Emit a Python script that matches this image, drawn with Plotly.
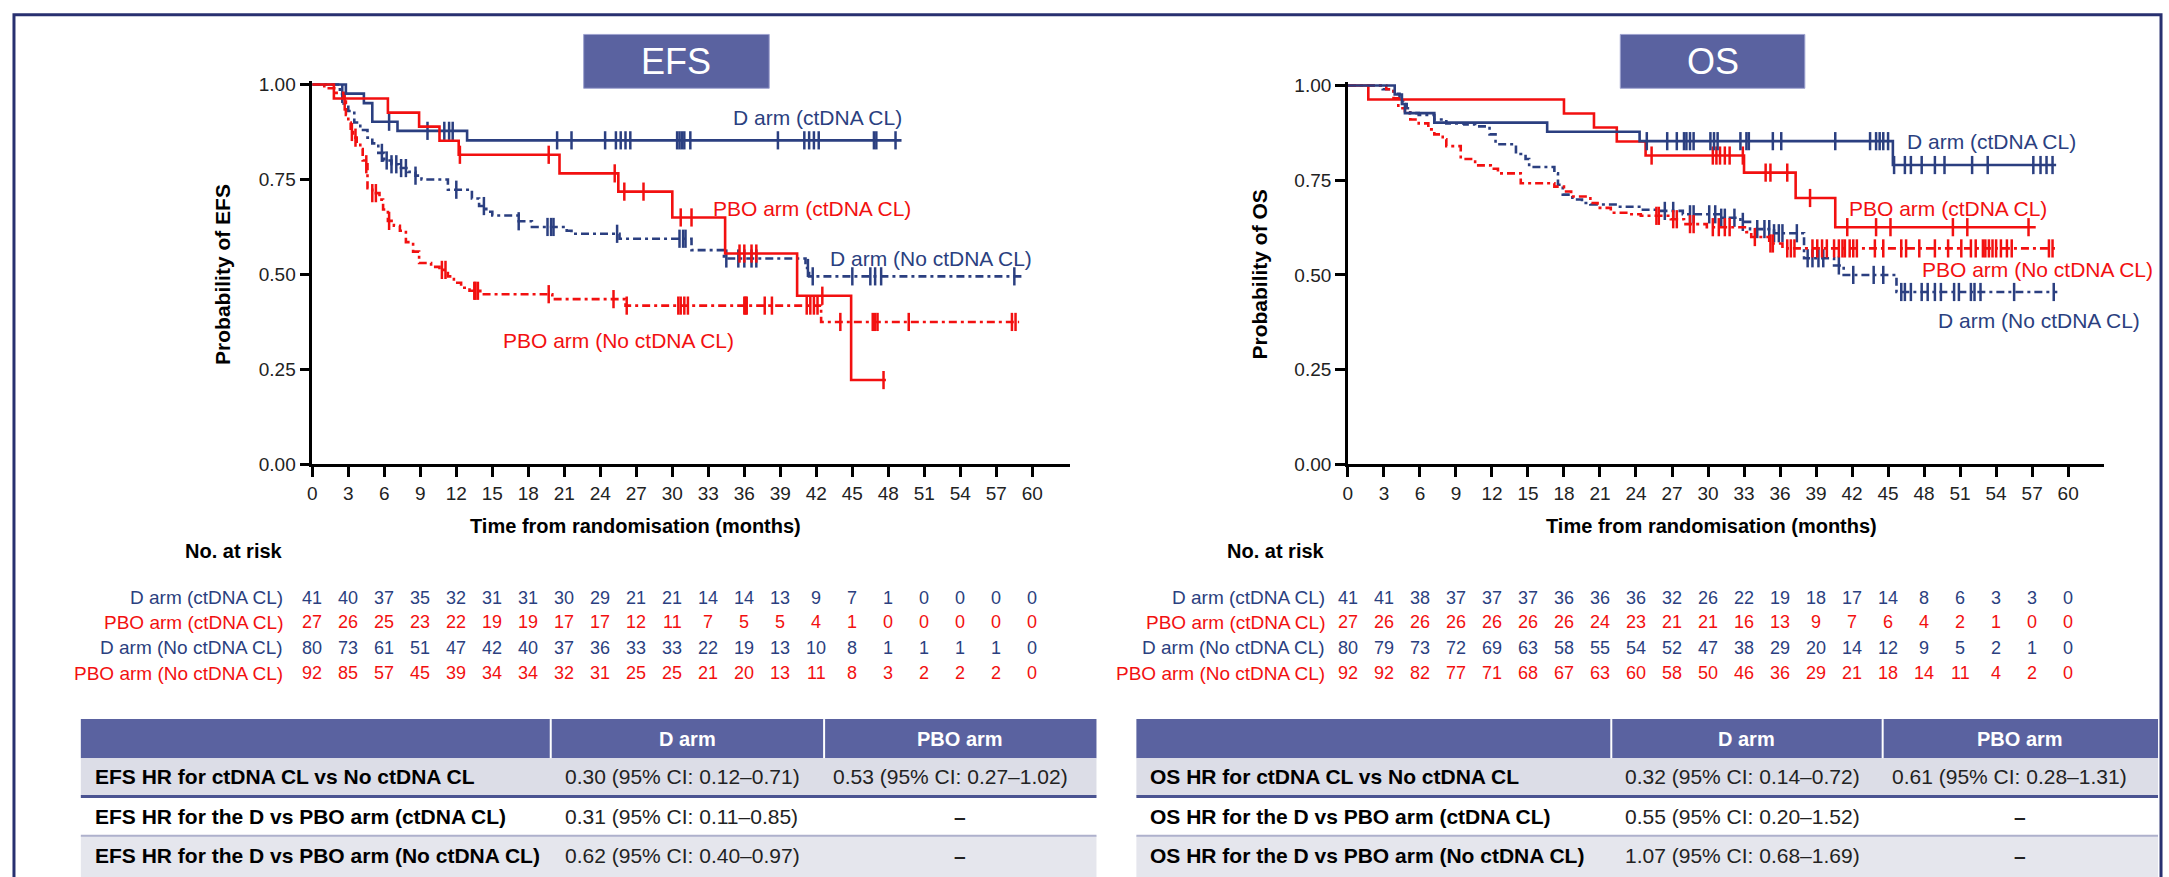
import plotly.graph_objects as go
from bisect import bisect_right

W, H = 2169, 877
NAVY = "#2b3f80"
RED = "#f21010"
HEAD = "#5a62a0"
SANS = "Liberation Sans, Arial, sans-serif"

months = list(range(0, 61, 3))
prob_ticks = [0, 0.25, 0.5, 0.75, 1.0]
prob_text = ["0.00", "0.25", "0.50", "0.75", "1.00"]

# ---- EFS Kaplan-Meier steps (months, probability) and censor times ----
efs_d_cl_t = [0, 2.8, 4.3, 5.0, 7.1, 12.9, 49.1]
efs_d_cl_s = [1, 0.976, 0.951, 0.902, 0.878, 0.853, 0.853]
efs_d_cl_c = [6.4, 9.6, 11.0, 11.4, 11.7, 20.4, 21.6, 24.4, 25.3, 25.7, 26.1, 26.5,
              30.4, 30.6, 30.8, 31.0, 31.5, 38.8, 41.0, 41.4, 41.8, 42.2, 46.8, 47.0, 48.6]

efs_pbo_cl_t = [0, 1.8, 6.3, 8.9, 10.6, 12.2, 20.6, 25.5, 30.0, 34.4, 40.4, 44.9, 47.8]
efs_pbo_cl_s = [1, 0.963, 0.926, 0.889, 0.852, 0.815, 0.766, 0.718, 0.65, 0.555, 0.444, 0.222, 0.222]
efs_pbo_cl_c = [12.3, 19.7, 25.2, 26.0, 27.6, 30.7, 31.6, 35.6, 36.0, 36.6, 37.0, 42.5, 47.6]

efs_d_no_t = [0, 2.3, 2.6, 3.0, 3.5, 4.0, 4.6, 5.0, 5.5, 6.0, 6.6, 7.2, 8.0, 8.6, 9.1, 11.3,
              13.3, 13.9, 14.5, 15.0, 17.2, 18.3, 21.2, 21.6, 25.6, 31.6, 34.3, 41.1, 41.4, 59.2]
efs_d_no_s = [1, 0.975, 0.95, 0.93, 0.90, 0.88, 0.86, 0.845, 0.82, 0.80, 0.79, 0.78, 0.77, 0.76, 0.75, 0.723,
              0.70, 0.68, 0.665, 0.655, 0.64, 0.625, 0.615, 0.607, 0.594, 0.564, 0.542, 0.517, 0.495, 0.495]
efs_d_no_c = [2.5, 5.8, 6.2, 6.6, 7.0, 7.4, 7.8, 8.6, 12.0, 14.3, 17.2, 19.6, 19.9, 20.1, 25.4,
              30.6, 30.9, 31.1, 34.5, 35.5, 36.0, 36.6, 37.0, 41.3, 41.7, 45.0, 46.5, 46.9, 47.4, 58.5]

efs_pbo_no_t = [0, 1.0, 2.0, 2.6, 2.8, 3.0, 3.2, 3.4, 3.7, 4.0, 4.2, 4.4, 4.6, 5.0, 5.6, 5.9, 6.3, 6.8,
                7.3, 7.8, 8.4, 8.9, 9.9, 10.6, 11.3, 11.8, 12.4, 13.1, 14.0, 20.0, 26.1, 42.4, 58.9]
efs_pbo_no_s = [1, 0.99, 0.978, 0.955, 0.92, 0.90, 0.875, 0.86, 0.845, 0.83, 0.80, 0.79, 0.727, 0.714,
                0.697, 0.671, 0.641, 0.628, 0.615, 0.585, 0.56, 0.53, 0.52, 0.512, 0.495, 0.478, 0.465,
                0.457, 0.448, 0.435, 0.418, 0.375, 0.375]
efs_pbo_no_c = [2.7, 3.3, 3.6, 4.5, 5.0, 5.3, 6.4, 10.8, 11.1, 13.5, 13.6, 13.8, 19.7, 25.1, 26.2,
                30.5, 30.7, 31.0, 31.3, 36.0, 36.1, 36.2, 37.7, 38.3, 41.2, 41.5, 41.8, 42.1, 44.0,
                46.7, 46.9, 47.1, 49.7, 58.3, 58.6]

# ---- OS Kaplan-Meier steps ----
os_d_cl_t = [0, 3.9, 4.5, 4.75, 7.2, 16.6, 24.3, 45.4, 59.0]
os_d_cl_s = [1, 0.976, 0.951, 0.927, 0.902, 0.878, 0.853, 0.79, 0.79]
os_d_cl_c = [24.9, 26.6, 27.4, 28.0, 28.2, 28.5, 28.8, 30.2, 30.5, 30.8, 32.7, 33.2, 33.4, 35.4, 36.1,
             40.6, 43.5, 44.0, 44.3, 44.6, 45.0, 45.5, 46.4, 46.9, 47.8, 48.9, 49.7, 52.0, 53.3,
             57.1, 57.7, 58.2, 58.7]

os_pbo_cl_t = [0, 1.7, 18.0, 20.5, 22.4, 24.8, 33.0, 37.3, 40.6, 57.3]
os_pbo_cl_s = [1, 0.963, 0.926, 0.889, 0.852, 0.815, 0.77, 0.703, 0.626, 0.626]
os_pbo_cl_c = [25.3, 30.4, 30.7, 31.0, 31.4, 31.8, 32.9, 34.8, 35.2, 36.6, 38.5, 41.6, 44.0, 45.2,
               50.4, 51.6, 56.7]

os_d_no_t = [0, 2.9, 3.8, 4.3, 4.6, 4.9, 5.2, 5.9, 7.2, 8.2, 9.7, 10.6, 11.8, 12.3, 14.0, 14.8, 15.1,
             17.2, 17.5, 17.9, 18.7, 19.5, 20.2, 22.5, 24.4, 26.0, 27.9, 31.0, 32.7, 33.5, 35.5,
             38.0, 40.5, 41.3, 45.7, 59.1]
os_d_no_s = [1, 0.99, 0.978, 0.965, 0.957, 0.94, 0.927, 0.922, 0.91, 0.90, 0.897, 0.892, 0.871, 0.845,
             0.819, 0.806, 0.785, 0.768, 0.738, 0.712, 0.699, 0.69, 0.686, 0.68, 0.672, 0.669, 0.66,
             0.651, 0.64, 0.621, 0.61, 0.544, 0.525, 0.50, 0.455, 0.455]
os_d_no_c = [26.4, 27.1, 28.5, 28.8, 30.1, 30.6, 31.1, 31.4, 32.2, 32.9, 34.1, 34.7, 35.1, 35.5, 35.9,
             36.2, 37.4, 38.3, 38.7, 39.2, 39.6, 40.9, 42.1, 43.8, 44.6, 46.1, 46.4, 46.9, 47.8, 48.3,
             48.9, 49.4, 50.5, 50.9, 51.9, 52.2, 52.7, 55.5, 58.8]

os_pbo_no_t = [0, 3.2, 3.8, 4.2, 4.75, 5.2, 5.9, 6.7, 7.2, 7.9, 8.2, 9.4, 10.6, 11.9, 12.5, 14.4, 17.2,
               18.0, 18.6, 20.2, 20.8, 21.9, 23.3, 24.4, 26.9, 28.0, 29.9, 33.2, 33.6, 35.1, 36.2, 59.2]
os_pbo_no_s = [1, 0.99, 0.966, 0.94, 0.927, 0.91, 0.90, 0.884, 0.871, 0.858, 0.84, 0.806, 0.789, 0.78,
               0.768, 0.742, 0.733, 0.72, 0.707, 0.69, 0.677, 0.664, 0.66, 0.656, 0.647, 0.634, 0.626,
               0.613, 0.60, 0.583, 0.57, 0.57]
os_pbo_no_c = [25.7, 25.9, 27.1, 27.4, 28.5, 28.8, 30.4, 30.9, 31.4, 31.8, 33.9, 35.2, 35.4, 36.6, 36.9,
               37.2, 38.7, 39.1, 39.5, 39.9, 40.5, 40.9, 41.2, 41.4, 41.8, 42.1, 42.4, 43.9, 44.6, 46.1,
               46.5, 47.6, 48.9, 50.0, 51.1, 51.9, 52.3, 52.9, 53.1, 53.4, 53.7, 54.0, 54.4, 54.9, 55.3,
               58.4, 58.7]

# ---- numbers at risk ----
risk_labels = ["D arm (ctDNA CL)", "PBO arm (ctDNA CL)", "D arm (No ctDNA CL)", "PBO arm (No ctDNA CL)"]
risk_colors = [NAVY, RED, NAVY, RED]
efs_risk = [
    [41, 40, 37, 35, 32, 31, 31, 30, 29, 21, 21, 14, 14, 13, 9, 7, 1, 0, 0, 0, 0],
    [27, 26, 25, 23, 22, 19, 19, 17, 17, 12, 11, 7, 5, 5, 4, 1, 0, 0, 0, 0, 0],
    [80, 73, 61, 51, 47, 42, 40, 37, 36, 33, 33, 22, 19, 13, 10, 8, 1, 1, 1, 1, 0],
    [92, 85, 57, 45, 39, 34, 34, 32, 31, 25, 25, 21, 20, 13, 11, 8, 3, 2, 2, 2, 0],
]
os_risk = [
    [41, 41, 38, 37, 37, 37, 36, 36, 36, 32, 26, 22, 19, 18, 17, 14, 8, 6, 3, 3, 0],
    [27, 26, 26, 26, 26, 26, 26, 24, 23, 21, 21, 16, 13, 9, 7, 6, 4, 2, 1, 0, 0],
    [80, 79, 73, 72, 69, 63, 58, 55, 54, 52, 47, 38, 29, 20, 14, 12, 9, 5, 2, 1, 0],
    [92, 92, 82, 77, 71, 68, 67, 63, 60, 58, 50, 46, 36, 29, 21, 18, 14, 11, 4, 2, 0],
]

# ---- hazard ratio tables ----
hr_head = ["D arm", "PBO arm"]
efs_hr_rows = ["EFS HR for ctDNA CL vs No ctDNA CL", "EFS HR for the D vs PBO arm (ctDNA CL)",
               "EFS HR for the D vs PBO arm (No ctDNA CL)"]
efs_hr_d = ["0.30 (95% CI: 0.12–0.71)", "0.31 (95% CI: 0.11–0.85)", "0.62 (95% CI: 0.40–0.97)"]
efs_hr_pbo = ["0.53 (95% CI: 0.27–1.02)", "–", "–"]
os_hr_rows = ["OS HR for ctDNA CL vs No ctDNA CL", "OS HR for the D vs PBO arm (ctDNA CL)",
              "OS HR for the D vs PBO arm (No ctDNA CL)"]
os_hr_d = ["0.32 (95% CI: 0.14–0.72)", "0.55 (95% CI: 0.20–1.52)", "1.07 (95% CI: 0.68–1.69)"]
os_hr_pbo = ["0.61 (95% CI: 0.28–1.31)", "–", "–"]


def px(x):
    return x / W


def py(y):
    return 1 - y / H


def level(ts, ss, t):
    return ss[bisect_right(ts, t) - 1]


fig = go.Figure()


def add_curve(xa, ya, ts, ss, cens, color, dash):
    fig.add_trace(go.Scatter(x=ts, y=ss, mode="lines", xaxis=xa, yaxis=ya,
                             line=dict(color=color, width=2.6, dash=dash, shape="hv"),
                             showlegend=False, hoverinfo="skip"))
    fig.add_trace(go.Scatter(x=cens, y=[level(ts, ss, c) for c in cens], mode="markers",
                             xaxis=xa, yaxis=ya, cliponaxis=False,
                             marker=dict(symbol="line-ns", size=13, line=dict(color=color, width=2.5)),
                             showlegend=False, hoverinfo="skip"))


DASH = "8px,4px,3px,4px"
add_curve("x", "y", efs_d_no_t, efs_d_no_s, efs_d_no_c, NAVY, DASH)
add_curve("x", "y", efs_pbo_no_t, efs_pbo_no_s, efs_pbo_no_c, RED, DASH)
add_curve("x", "y", efs_d_cl_t, efs_d_cl_s, efs_d_cl_c, NAVY, "solid")
add_curve("x", "y", efs_pbo_cl_t, efs_pbo_cl_s, efs_pbo_cl_c, RED, "solid")
add_curve("x2", "y2", os_d_no_t, os_d_no_s, os_d_no_c, NAVY, DASH)
add_curve("x2", "y2", os_pbo_no_t, os_pbo_no_s, os_pbo_no_c, RED, DASH)
add_curve("x2", "y2", os_pbo_cl_t, os_pbo_cl_s, os_pbo_cl_c, RED, "solid")
add_curve("x2", "y2", os_d_cl_t, os_d_cl_s, os_d_cl_c, NAVY, "solid")

ax = dict(showgrid=False, zeroline=False, showline=True, linecolor="black", linewidth=2.5,
          ticks="outside", ticklen=10, tickwidth=2.5, tickcolor="black",
          tickfont=dict(family=SANS, size=19, color="#222"))
fig.update_layout(
    width=W, height=H, margin=dict(l=0, r=0, t=0, b=0),
    paper_bgcolor="white", plot_bgcolor="white",
    xaxis=dict(domain=[px(308), px(1067)], range=[0, 63.1], tickvals=months, anchor="y", **ax),
    yaxis=dict(domain=[py(467), py(76)], range=[0, 1.008], tickvals=prob_ticks, ticktext=prob_text,
               anchor="x", **ax),
    xaxis2=dict(domain=[px(1346), px(2104)], range=[0, 63.0], tickvals=months, anchor="y2", **ax),
    yaxis2=dict(domain=[py(467), py(77)], range=[0, 1.008], tickvals=prob_ticks, ticktext=prob_text,
                anchor="x2", **ax),
)

shapes = []
ann = []


def text(x, y, s, size, color="black", xanchor="center", bold=False, xref="paper",
         yref="paper", angle=0):
    ann.append(dict(x=x, y=y, xref=xref, yref=yref, text=f"<b>{s}</b>" if bold else s, showarrow=False,
                    xanchor=xanchor, yanchor="middle", textangle=angle,
                    font=dict(family=SANS, size=size, color=color)))


# outer frame
shapes.append(dict(type="rect", xref="paper", yref="paper", x0=px(9), x1=px(2161), y0=-0.1, y1=py(8),
                   line=dict(color="#283070", width=3)))

# panel header boxes
for name, x0, x1 in [("EFS", 580, 766), ("OS", 1619, 1804)]:
    shapes.append(dict(type="rect", xref="paper", yref="paper", x0=px(x0), x1=px(x1), y0=py(83), y1=py(28),
                       fillcolor=HEAD, line=dict(color="#9ea3cf", width=1)))
    text(px((x0 + x1) / 2), py(56), name, 36, "white")

# axis titles
for xc, yc_x, ytitle in [(632, 218, "Probability of EFS"), (1710, 1257, "Probability of OS")]:
    text(px(xc), py(530), "Time from randomisation (months)", 20, bold=True)
    text(px(yc_x), py(273), ytitle, 21, bold=True, angle=-90)

# curve labels
efs_lab = [(34.9, 0.912), (33.2, 0.673), (43.0, 0.541), (15.7, 0.327)]
os_lab = [(46.4, 0.853), (41.6, 0.674), (49.0, 0.38), (47.7, 0.514)]
for (xa, labs) in [("x", efs_lab), ("x2", os_lab)]:
    for lab, col, (lx, ly) in zip(risk_labels, risk_colors, labs):
        text(lx, ly, lab, 21, col, "left", xref=xa, yref=xa.replace("x", "y"))

# numbers at risk
row_y = [603, 628, 654, 680]
for xa, lab_right, data in [("x", 281, efs_risk), ("x2", 1325, os_risk)]:
    text(px(lab_right), py(555), "No. at risk", 20, xanchor="right", bold=True)
    for lab, col, ry, vals in zip(risk_labels, risk_colors, row_y, data):
        text(px(lab_right), py(ry), lab, 19, col, xanchor="right")
        for m, v in zip(months, vals):
            text(m, py(ry), str(v), 18, col, xref=xa)

# hazard-ratio tables
for (l, c1, c2, r), rows, dcol, pcol in [((76, 547, 821, 1094), efs_hr_rows, efs_hr_d, efs_hr_pbo),
                                         ((1134, 1610, 1882, 2158), os_hr_rows, os_hr_d, os_hr_pbo)]:
    shapes.append(dict(type="rect", xref="paper", yref="paper", x0=px(l), x1=px(r), y0=py(767), y1=py(727),
                       fillcolor=HEAD, line=dict(width=0)))
    shapes.append(dict(type="rect", xref="paper", yref="paper", x0=px(l), x1=px(r), y0=py(806), y1=py(767),
                       fillcolor="#dcdde7", line=dict(width=0)))
    shapes.append(dict(type="rect", xref="paper", yref="paper", x0=px(l), x1=px(r), y0=py(895), y1=py(846),
                       fillcolor="#e5e6ed", line=dict(width=0)))
    shapes.append(dict(type="line", xref="paper", yref="paper", x0=px(l), x1=px(r), y0=py(806), y1=py(806),
                       line=dict(color="#4a5391", width=3)))
    shapes.append(dict(type="line", xref="paper", yref="paper", x0=px(l), x1=px(r), y0=py(846), y1=py(846),
                       line=dict(color="#aeb1cc", width=2)))
    for cx in (c1, c2):
        shapes.append(dict(type="line", xref="paper", yref="paper", x0=px(cx), x1=px(cx), y0=py(767),
                           y1=py(727), line=dict(color="white", width=2)))
    text(px((c1 + c2) / 2), py(747), hr_head[0], 20, "white", bold=True)
    text(px((c2 + r) / 2), py(747), hr_head[1], 20, "white", bold=True)
    for ry, rl, dv, pv in zip([786, 826, 866], rows, dcol, pcol):
        text(px(l + 12), py(ry), rl, 21, xanchor="left", bold=True)
        text(px(c1 + 12), py(ry), dv, 21, "#222", xanchor="left")
        if pv == "–":
            text(px((c2 + r) / 2), py(ry), pv, 21, "#222", bold=True)
        else:
            text(px(c2 + 7), py(ry), pv, 21, "#222", xanchor="left")

fig.update_layout(shapes=shapes, annotations=ann)
fig.write_html("out.html", config={"displayModeBar": False},
               post_script="document.body.style.margin='0';")
